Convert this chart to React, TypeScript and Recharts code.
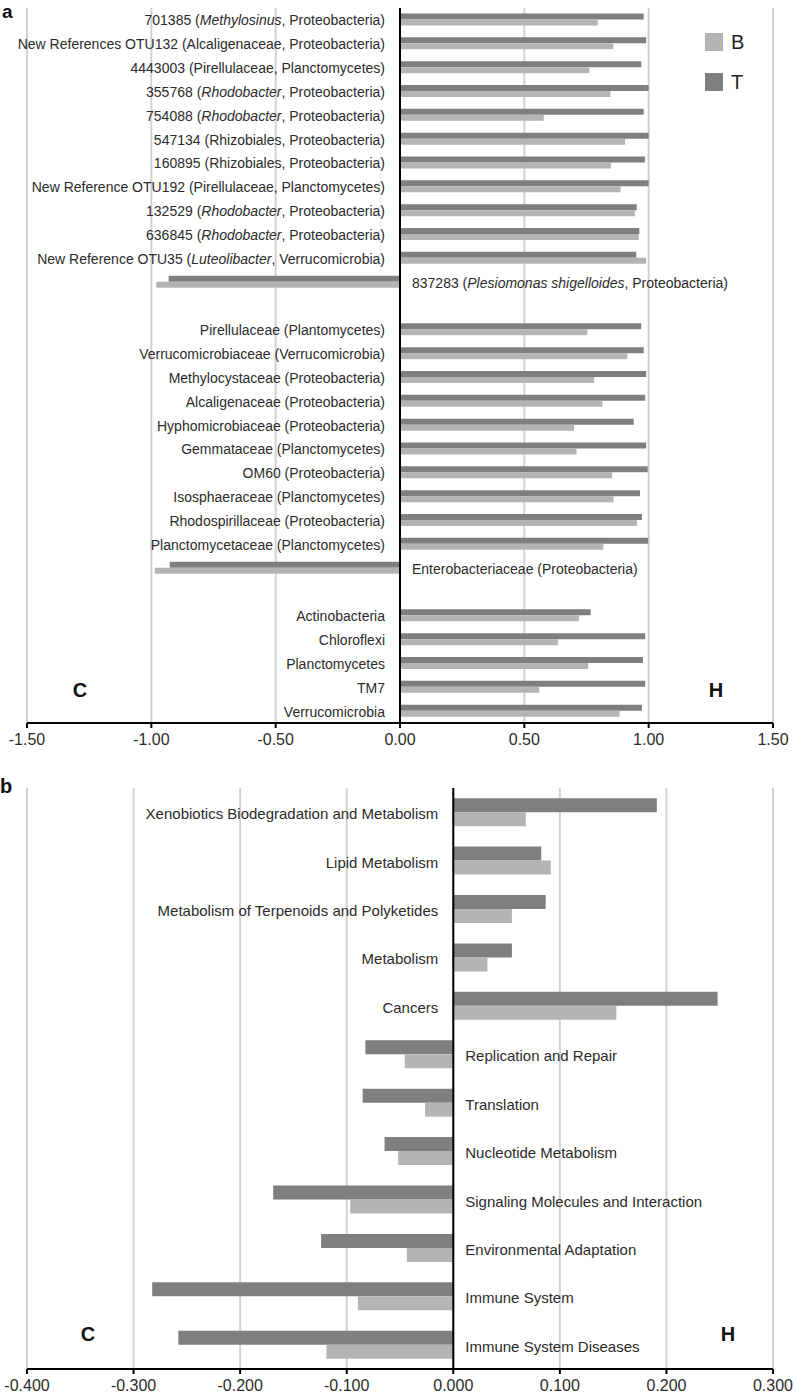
import React from 'react';
import { BarChart, Bar, XAxis, YAxis, CartesianGrid, ReferenceLine, LabelList, Legend } from 'recharts';

// panel a: OTUs, families, phyla (blank rows are spacers between the groups)
// genus / species names wrapped in _ _ are set in italics
const otuNames = [
    '701385 (_Methylosinus_, Proteobacteria)',
    'New References OTU132 (Alcaligenaceae, Proteobacteria)',
    '4443003 (Pirellulaceae, Planctomycetes)',
    '355768 (_Rhodobacter_, Proteobacteria)',
    '754088 (_Rhodobacter_, Proteobacteria)',
    '547134 (Rhizobiales, Proteobacteria)',
    '160895 (Rhizobiales, Proteobacteria)',
    'New Reference OTU192 (Pirellulaceae, Planctomycetes)',
    '132529 (_Rhodobacter_, Proteobacteria)',
    '636845 (_Rhodobacter_, Proteobacteria)',
    'New Reference OTU35 (_Luteolibacter_, Verrucomicrobia)',
    '837283 (_Plesiomonas shigelloides_, Proteobacteria)',
]
const otuT = [0.98, 0.99, 0.97, 1.0, 0.98, 1.0, 0.985, 1.0, 0.952, 0.962, 0.95, -0.93]
const otuB = [0.795, 0.858, 0.762, 0.846, 0.578, 0.905, 0.848, 0.887, 0.944, 0.96, 0.99, -0.98]

const familyNames = [
    'Pirellulaceae (Plantomycetes)',
    'Verrucomicrobiaceae (Verrucomicrobia)',
    'Methylocystaceae (Proteobacteria)',
    'Alcaligenaceae (Proteobacteria)',
    'Hyphomicrobiaceae (Proteobacteria)',
    'Gemmataceae (Planctomycetes)',
    'OM60 (Proteobacteria)',
    'Isosphaeraceae (Planctomycetes)',
    'Rhodospirillaceae (Proteobacteria)',
    'Planctomycetaceae (Planctomycetes)',
    'Enterobacteriaceae (Proteobacteria)',
]
const familyT = [0.97, 0.98, 0.99, 0.986, 0.94, 0.99, 0.996, 0.965, 0.973, 0.998, -0.926]
const familyB = [0.753, 0.914, 0.781, 0.814, 0.70, 0.71, 0.853, 0.859, 0.953, 0.818, -0.986]

const phylumNames = ['Actinobacteria', 'Chloroflexi', 'Planctomycetes', 'TM7', 'Verrucomicrobia']
const phylumT = [0.767, 0.986, 0.977, 0.986, 0.973]
const phylumB = [0.72, 0.636, 0.757, 0.56, 0.883]

const ticksA = [-1.5, -1.0, -0.5, 0, 0.5, 1.0, 1.5]

// panel b: KEGG pathways
const pathwayNames = [
    'Xenobiotics Biodegradation and Metabolism',
    'Lipid Metabolism',
    'Metabolism of Terpenoids and Polyketides',
    'Metabolism',
    'Cancers',
    'Replication and Repair',
    'Translation',
    'Nucleotide Metabolism',
    'Signaling Molecules and Interaction',
    'Environmental Adaptation',
    'Immune System',
    'Immune System Diseases',
]
const pathwayT = [0.191, 0.0825, 0.0867, 0.055, 0.248, -0.0825, -0.085, -0.0645, -0.169, -0.124, -0.2825, -0.258]
const pathwayB = [0.068, 0.0915, 0.055, 0.032, 0.153, -0.0455, -0.0265, -0.0517, -0.0967, -0.0436, -0.0896, -0.119]

const ticksB = [-0.4, -0.3, -0.2, -0.1, 0, 0.1, 0.2, 0.3]

const DARK = '#7f7f7f'
const LIGHT = '#b4b4b4'
const GRID = '#d2d2d2'
const FONT = "'Liberation Sans', Arial, sans-serif"

type Row = { name: string; T: number | null; B: number | null }

const toRows = (names: string[], t: number[], b: number[]): Row[] =>
    names.map((name, i) => ({ name, T: t[i], B: b[i] }))

const dataA: Row[] = [
    ...toRows(otuNames, otuT, otuB),
    { name: ' ', T: null, B: null },
    ...toRows(familyNames, familyT, familyB),
    { name: '  ', T: null, B: null },
    ...toRows(phylumNames, phylumT, phylumB),
]
const dataB: Row[] = toRows(pathwayNames, pathwayT, pathwayB)

const renderName = (name: string) =>
    name.split('_').map((part, i) => (
        <tspan key={i} fontStyle={i % 2 === 1 ? 'italic' : 'normal'}>{part}</tspan>
    ))

// category label sits next to the zero line, on the side away from the bars
const makeLabel = (rows: Row[], fontSize: number) => (props: any) => {
    const { value } = props
    const box = props.viewBox && props.viewBox.width !== undefined ? props.viewBox : props
    const row = rows.find(r => r.name === value)
    if (!row || row.T == null) return null
    const x = Number(box.x), w = Number(box.width), y = Number(box.y), h = Number(box.height)
    const left = Math.min(x, x + w)
    const right = Math.max(x, x + w)
    const positive = row.T >= 0
    return (
        <text
            x={positive ? left - 15 : right + 12}
            y={y + h + 1}
            textAnchor={positive ? 'end' : 'start'}
            dominantBaseline="central"
            fontSize={fontSize}
            fontFamily={FONT}
            fill="#2b2b2b"
        >
            {renderName(String(value))}
        </text>
    )
}

const legendItems = [
    { key: 'B', color: LIGHT },
    { key: 'T', color: DARK },
]

const renderLegend = () => (
    <div style={{ display: 'flex', flexDirection: 'column', gap: 22, fontFamily: FONT }}>
        {legendItems.map(item => (
            <div key={item.key} style={{ display: 'flex', alignItems: 'center', gap: 8 }}>
                <span style={{ width: 18, height: 18, background: item.color, display: 'inline-block' }} />
                <span style={{ fontSize: 20, color: '#222', lineHeight: '18px' }}>{item.key}</span>
            </div>
        ))}
    </div>
)

const tickStyle = { fontSize: 16, fill: '#2b2b2b', fontFamily: FONT }

const App = () => {
    return (
        <div style={{ position: 'absolute', left: 0, top: 0, width: 796, height: 1393, background: '#fff', overflow: 'hidden' }}>
            <div style={{ position: 'absolute', left: 0, top: 0 }}>
                <BarChart
                    width={796}
                    height={760}
                    data={dataA}
                    layout="vertical"
                    margin={{ top: 8, right: 23, left: 27, bottom: 0 }}
                    barCategoryGap="23%"
                    barGap={0}
                >
                    <CartesianGrid horizontal={false} stroke={GRID} strokeWidth={2} />
                    <XAxis
                        type="number"
                        domain={[-1.5, 1.5]}
                        ticks={ticksA}
                        tickFormatter={(v: number) => v.toFixed(2)}
                        height={37}
                        axisLine={{ stroke: '#000', strokeWidth: 2 }}
                        tickLine={{ stroke: '#000', strokeWidth: 2 }}
                        tickSize={5}
                        tickMargin={6}
                        tick={tickStyle}
                    />
                    <YAxis type="category" dataKey="name" hide width={0} />
                    <Legend
                        layout="horizontal"
                        verticalAlign="middle"
                        align="center"
                        content={renderLegend}
                        wrapperStyle={{ position: 'absolute', top: 33, left: 705, width: 60 }}
                    />
                    <Bar dataKey="T" fill={DARK} isAnimationActive={false}>
                        <LabelList dataKey="name" content={makeLabel(dataA, 14)} />
                    </Bar>
                    <Bar dataKey="B" fill={LIGHT} isAnimationActive={false} />
                    <ReferenceLine x={0} stroke="#000" strokeWidth={2} />
                </BarChart>
            </div>
            <div style={{ position: 'absolute', left: 0, top: 760 }}>
                <BarChart
                    width={796}
                    height={633}
                    data={dataB}
                    layout="vertical"
                    margin={{ top: 28, right: 23, left: 27, bottom: 0 }}
                    barCategoryGap="21%"
                    barGap={0}
                >
                    <CartesianGrid horizontal={false} stroke={GRID} strokeWidth={2} />
                    <XAxis
                        type="number"
                        domain={[-0.4, 0.3]}
                        ticks={ticksB}
                        tickFormatter={(v: number) => v.toFixed(3)}
                        height={24}
                        axisLine={{ stroke: '#000', strokeWidth: 2 }}
                        tickLine={{ stroke: '#000', strokeWidth: 2 }}
                        tickSize={5}
                        tickMargin={6}
                        tick={tickStyle}
                    />
                    <YAxis type="category" dataKey="name" hide width={0} />
                    <Bar dataKey="T" fill={DARK} isAnimationActive={false}>
                        <LabelList dataKey="name" content={makeLabel(dataB, 15)} />
                    </Bar>
                    <Bar dataKey="B" fill={LIGHT} isAnimationActive={false} />
                    <ReferenceLine x={0} stroke="#000" strokeWidth={2} />
                </BarChart>
            </div>
            <svg width={796} height={1393} style={{ position: 'absolute', left: 0, top: 0, pointerEvents: 'none' }}>
                <g fontFamily={FONT} fontWeight="bold" fill="#111">
                    <text x={2} y={18} fontSize={19}>a</text>
                    <text x={0} y={793} fontSize={20}>b</text>
                    <text x={80} y={697} fontSize={20} textAnchor="middle">C</text>
                    <text x={716} y={697} fontSize={20} textAnchor="middle">H</text>
                    <text x={88} y={1341} fontSize={20} textAnchor="middle">C</text>
                    <text x={728} y={1341} fontSize={20} textAnchor="middle">H</text>
                </g>
            </svg>
        </div>
    )
}

export default App
